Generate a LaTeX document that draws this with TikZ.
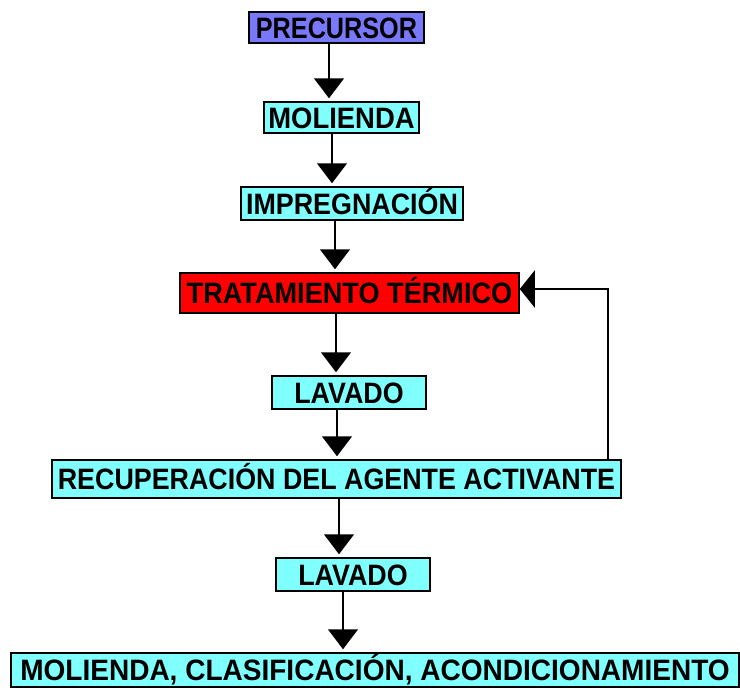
\documentclass[tikz,border=0pt]{standalone}
\usepackage{fontspec}
\newfontfamily\boxfont{Liberation Sans}
\usetikzlibrary{arrows.meta}
\definecolor{cyanbox}{RGB}{128,255,255}
\definecolor{bluebox}{RGB}{120,120,250}
\definecolor{redbox}{RGB}{255,0,0}
\tikzset{
  box/.style={draw=black, line width=1.5pt, rectangle, inner sep=0pt,
    text height=21pt, text depth=0pt,
    font=\boxfont\bfseries\fontsize{29.5}{31}\selectfont},
  arr/.style={line width=1.5pt, -{Triangle[width=30pt,length=20pt]}, shorten >=3pt},
  backarr/.style={line width=1.5pt, -{Triangle[width=37pt,length=15pt]}}
}
\begin{document}
\begin{tikzpicture}[x=1pt,y=-1pt]
\useasboundingbox (0,0) rectangle (740,688);
\node[box, fill=bluebox, minimum width=175pt, minimum height=31pt] (prec) at (336.5,27.5) {\scalebox{0.855}[1]{PRECURSOR}};
\node[box, fill=cyanbox, minimum width=155pt, minimum height=31pt] (mol) at (341.5,117.5) {\scalebox{0.93}[1]{MOLIENDA}};
\node[box, fill=cyanbox, minimum width=222pt, minimum height=33pt] (imp) at (352,203.5) {\scalebox{0.91}[1]{IMPREGNACIÓN}};
\node[box, fill=redbox, minimum width=339pt, minimum height=40pt] (trat) at (349.5,293) {\scalebox{0.92}[1]{TRATAMIENTO TÉRMICO}};
\node[box, fill=cyanbox, minimum width=154pt, minimum height=33pt] (lav1) at (349,392.5) {\scalebox{0.91}[1]{LAVADO}};
\node[box, fill=cyanbox, minimum width=569pt, minimum height=38pt] (rec) at (336.5,479) {\scalebox{0.91}[1]{RECUPERACIÓN DEL AGENTE ACTIVANTE}};
\node[box, fill=cyanbox, minimum width=154pt, minimum height=33pt] (lav2) at (353,574.5) {\scalebox{0.91}[1]{LAVADO}};
\node[box, fill=cyanbox, minimum width=728pt, minimum height=34pt] (fin) at (375,670) {\scalebox{0.95}[1]{MOLIENDA, CLASIFICACIÓN, ACONDICIONAMIENTO}};

\draw[arr] (prec.south -| 329,0) -- (mol.north -| 329,0);
\draw[arr] (mol.south -| 332,0) -- (imp.north -| 332,0);
\draw[arr] (imp.south -| 335,0) -- (trat.north -| 335,0);
\draw[arr] (trat.south -| 336,0) -- (lav1.north -| 336,0);
\draw[arr] (lav1.south -| 337,0) -- (rec.north -| 337,0);
\draw[arr] (rec.south -| 339,0) -- (lav2.north -| 339,0);
\draw[arr] (lav2.south -| 343,0) -- (fin.north -| 343,0);
\draw[backarr] (rec.north -| 608,0) |- (trat.east |- 0,289);
\end{tikzpicture}
\end{document}
